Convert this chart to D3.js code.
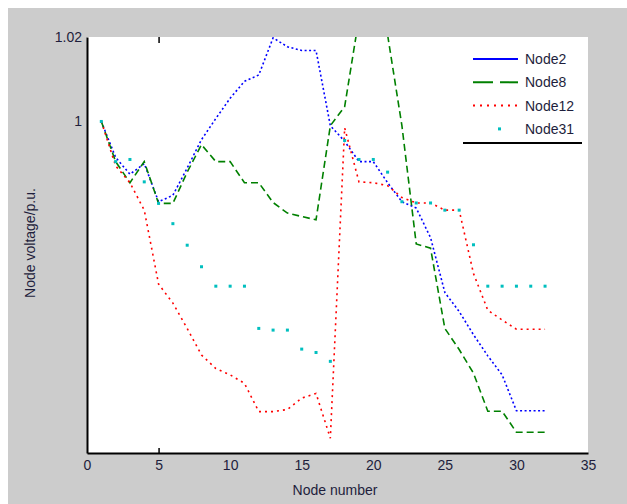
<!DOCTYPE html>
<html>
<head>
<meta charset="utf-8">
<title>Node voltage</title>
<style>
  body { margin: 0; background: #fff; }
  text { font-family: "Liberation Sans", Arial, sans-serif; fill: #1e1e3c; }
</style>
</head>
<body>
<svg width="627" height="504"></svg>
<script src="https://d3js.org/d3.v7.min.js"></script>
<script>
  // node numbers 1..32
  var nodes = d3.range(1, 33);

  var node2 = [1.0, 0.9915, 0.9875, 0.990, 0.981, 0.9825, 0.989, 0.9957, 1.0007, 1.0055,
    1.0095, 1.011, 1.0198, 1.0177, 1.0168, 1.0168, 0.999, 0.9953, 0.9905, 0.9905,
    0.9855, 0.981, 0.9795, 0.9725, 0.9595, 0.955, 0.9495, 0.9445, 0.940, 0.9315,
    0.9315, 0.9315];
  var node8 = [1.0, 0.9905, 0.9855, 0.9905, 0.9806, 0.9806, 0.988, 0.9945, 0.9905, 0.9905,
    0.9855, 0.9855, 0.9808, 0.9783, 0.9775, 0.9767, 0.999, 1.0035, 1.0245, 1.032,
    1.0205, 0.999, 0.971, 0.970, 0.951, 0.946, 0.9404, 0.9314, 0.9314, 0.9264,
    0.9264, 0.9264];
  var node12 = [1.0, 0.9895, 0.9855, 0.979, 0.9615, 0.957, 0.951, 0.9447, 0.9415, 0.940,
    0.938, 0.9313, 0.9313, 0.9318, 0.9345, 0.9356, 0.925, 0.9985, 0.9857, 0.9855,
    0.9848, 0.982, 0.9807, 0.9807, 0.979, 0.979, 0.964, 0.9553, 0.953, 0.9508,
    0.9508, 0.9508];
  var node31 = [1.0, 0.9905, 0.991, 0.9857, 0.9806, 0.9758, 0.9707, 0.9656, 0.961, 0.961,
    0.961, 0.951, 0.9506, 0.9506, 0.9461, 0.9453, 0.9432, 0.9955, 0.991, 0.991,
    0.988, 0.981, 0.9807, 0.9807, 0.979, 0.979, 0.9708, 0.961, 0.961, 0.961,
    0.961, 0.961];

  var xTicks = [0, 5, 10, 15, 20, 25, 30, 35];
  var yTicks = [1, 1.02];

  var series = [
    { name: "Node2", values: node2, color: "#0000ff", dash: "2,2.5", legendDash: null },
    { name: "Node8", values: node8, color: "#008000", dash: "7,4", legendDash: "20,7" },
    { name: "Node12", values: node12, color: "#ff0000", dash: "2,4", legendDash: "2,5" },
    { name: "Node31", values: node31, color: "#00bfbf", dash: null, legendDash: null, dots: true }
  ];

  var svg = d3.select("svg");

  // figure background
  svg.append("rect")
    .attr("x", 8).attr("y", 8)
    .attr("width", 619).attr("height", 496)
    .attr("fill", "#cccccc");

  var xScale = d3.scaleLinear().domain([0, 35]).range([87, 588]);
  var yScale = d3.scaleLinear().domain([0.9215, 1.02]).range([453, 37]);

  svg.append("rect")
    .attr("x", xScale(0)).attr("y", yScale(1.02))
    .attr("width", xScale(35) - xScale(0))
    .attr("height", yScale(0.9215) - yScale(1.02))
    .attr("fill", "#ffffff");

  svg.append("clipPath").attr("id", "plotclip")
    .append("rect")
    .attr("x", xScale(0)).attr("y", yScale(1.02))
    .attr("width", xScale(35) - xScale(0))
    .attr("height", yScale(0.9215) - yScale(1.02));

  var plot = svg.append("g").attr("clip-path", "url(#plotclip)");

  var line = d3.line()
    .x((d, i) => xScale(nodes[i]))
    .y(d => yScale(d));

  series.forEach(s => {
    if (s.dots) {
      plot.selectAll(".dot-" + s.name)
        .data(s.values)
        .enter()
        .append("rect")
        .attr("x", (d, i) => xScale(nodes[i]) - 1.5)
        .attr("y", d => yScale(d) - 1.5)
        .attr("width", 3).attr("height", 3)
        .attr("fill", s.color);
    } else {
      plot.append("path")
        .attr("d", line(s.values))
        .attr("fill", "none")
        .attr("stroke", s.color)
        .attr("stroke-width", 1.6)
        .attr("stroke-dasharray", s.dash);
    }
  });

  // axes
  var xAxis = svg.append("g")
    .attr("transform", "translate(0," + yScale(0.9215) + ")")
    .call(d3.axisBottom(xScale).tickValues(xTicks).tickSize(0).tickPadding(7));
  var yAxis = svg.append("g")
    .attr("transform", "translate(" + xScale(0) + ",0)")
    .call(d3.axisLeft(yScale).tickValues(yTicks).tickSize(0).tickPadding(5)
      .tickFormat(d => d === 1 ? "1" : d3.format(".2f")(d)));

  [xAxis, yAxis].forEach(a => {
    a.select(".domain").attr("stroke", "#000").attr("stroke-width", 2);
    a.selectAll("text").attr("font-size", 14).attr("fill", "#1e1e3c")
      .attr("font-family", "Liberation Sans, Arial, sans-serif");
  });

  // the only tick marks visible: at x = 5, bottom and top
  svg.append("g")
    .attr("transform", "translate(0," + yScale(0.9215) + ")")
    .call(d3.axisBottom(xScale).tickValues([5]).tickSize(-5).tickFormat(""))
    .call(g => g.select(".domain").remove())
    .selectAll("line").attr("stroke", "#000").attr("stroke-width", 1.5);
  svg.append("g")
    .attr("transform", "translate(0," + yScale(1.02) + ")")
    .call(d3.axisTop(xScale).tickValues([5]).tickSize(-6).tickFormat(""))
    .call(g => g.select(".domain").remove())
    .selectAll("line").attr("stroke", "#000").attr("stroke-width", 1.5);

  // axis titles
  svg.append("text")
    .attr("x", 335).attr("y", 495)
    .attr("text-anchor", "middle")
    .attr("font-size", 14)
    .text("Node number");
  svg.append("text")
    .attr("transform", "translate(30,243) rotate(-90)")
    .attr("dy", "0.35em")
    .attr("text-anchor", "middle")
    .attr("font-size", 14)
    .text("Node voltage/p.u.");

  // legend
  var legend = svg.append("g");
  series.forEach((s, i) => {
    var ly = 59 + i * 23.3;
    if (s.dots) {
      legend.append("rect")
        .attr("x", 498).attr("y", ly - 1.5)
        .attr("width", 3).attr("height", 3)
        .attr("fill", s.color);
    } else {
      legend.append("line")
        .attr("x1", 473).attr("x2", 518)
        .attr("y1", ly).attr("y2", ly)
        .attr("stroke", s.color)
        .attr("stroke-width", 2)
        .attr("stroke-dasharray", s.legendDash);
    }
    legend.append("text")
      .attr("x", 525).attr("y", ly)
      .attr("dy", "0.36em")
      .attr("font-size", 14)
      .text(s.name);
  });
  legend.append("line")
    .attr("x1", 463).attr("x2", 582)
    .attr("y1", 143).attr("y2", 143)
    .attr("stroke", "#000")
    .attr("stroke-width", 2);
</script>
</body>
</html>
